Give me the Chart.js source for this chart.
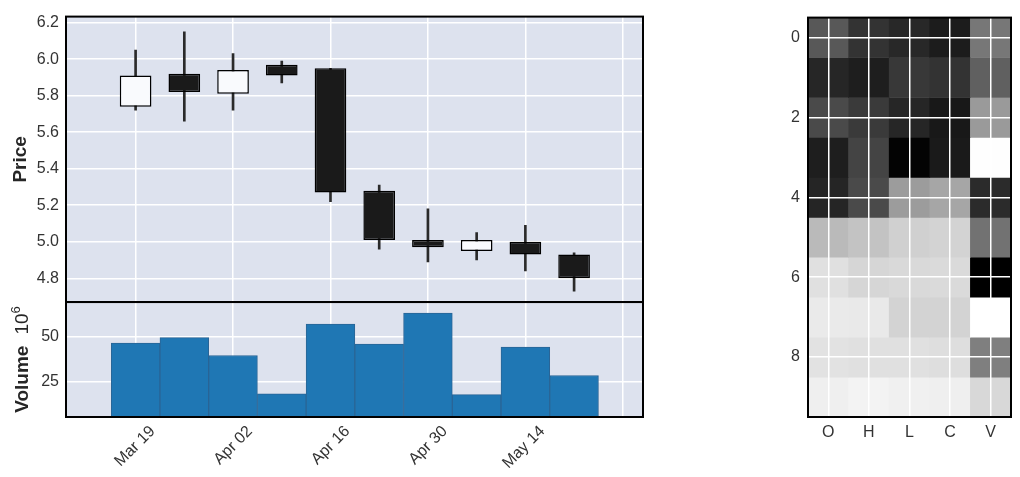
<!DOCTYPE html>
<html>
<head>
<meta charset="utf-8">
<script src="https://cdn.jsdelivr.net/npm/chart.js@4.4.0/dist/chart.umd.min.js"></script>
<style>
  body { margin: 0; background: #fff; width: 1020px; height: 477px; overflow: hidden; position: relative; }
  canvas { position: absolute; top: 0; }
  #main { left: 0; }
  #heat { left: 760px; }
</style>
</head>
<body>
<canvas id="main" width="700" height="477"></canvas>
<canvas id="heat" width="260" height="477"></canvas>
<script>
// weekly candles, x = days after Mar 19
const weekDays = [0, 7, 14, 21, 28, 35, 42, 49, 56, 63];
const opens = [5.74, 5.92, 5.81, 5.97, 5.95, 5.28, 5.01, 4.95, 5.00, 4.93];
const highs = [6.05, 6.15, 6.03, 5.99, 5.95, 5.31, 5.18, 5.05, 5.09, 4.94];
const lows = [5.72, 5.66, 5.72, 5.87, 5.22, 4.96, 4.89, 4.90, 4.84, 4.73];
const closes = [5.91, 5.82, 5.94, 5.91, 5.27, 5.01, 4.97, 5.01, 4.93, 4.80];
const volumes = [46.3, 49.4, 39.5, 18.3, 56.9, 45.8, 63.0, 17.8, 44.1, 28.4]; // x 10^6

const dateTicks = [0, 14, 28, 42, 56, 70];
const dateLabels = ['Mar 19', 'Apr 02', 'Apr 16', 'Apr 30', 'May 14', ''];
const priceTicks = [4.8, 5.0, 5.2, 5.4, 5.6, 5.8, 6.0, 6.2];
const volumeTicks = [25, 50];

// heatmap: gray level of each cell (0 black .. 255 white), row 0..9
const heatColumns = ['O', 'H', 'L', 'C', 'V'];
const heatRowTicks = [0, 2, 4, 6, 8];
const heatO = [88, 38, 74, 30, 37, 186, 224, 234, 226, 239];
const heatH = [51, 30, 58, 68, 74, 195, 214, 233, 224, 243];
const heatL = [40, 56, 38, 3, 156, 208, 217, 211, 224, 240];
const heatC = [28, 51, 24, 26, 166, 211, 218, 211, 222, 239];
const heatV = [119, 96, 154, 254, 43, 114, 0, 255, 127, 216];

const tickFont = { family: 'Liberation Sans', size: 16 };
const tickColor = '#333';
const gridOpts = { color: '#fff', lineWidth: 1.5, drawTicks: false };

const panels = {
  id: 'panels',
  beforeDraw(chart, args, opts) {
    if (!opts.bg) return;
    const { ctx, chartArea } = chart;
    ctx.save();
    ctx.fillStyle = opts.bg;
    ctx.fillRect(chartArea.left, chartArea.top, chartArea.width, chartArea.height);
    ctx.restore();
  },
  afterDraw(chart, args, opts) {
    const { ctx, chartArea } = chart;
    ctx.save();
    ctx.strokeStyle = '#000';
    ctx.lineWidth = 2;
    opts.boxes.forEach(id => {
      const s = chart.scales[id];
      ctx.strokeRect(chartArea.left, s.top, chartArea.width, s.bottom - s.top);
    });
    ctx.restore();
  }
};

const volumeLabel = {
  id: 'volumeLabel',
  afterDraw(chart) {
    const { ctx } = chart;
    const s = chart.scales.yv;
    const yc = (s.top + s.bottom) / 2;
    ctx.save();
    ctx.fillStyle = '#262626';
    ctx.translate(28, yc);
    ctx.rotate(-Math.PI / 2);
    ctx.textBaseline = 'alphabetic';
    ctx.textAlign = 'left';
    ctx.font = 'bold 19px "Liberation Sans"';
    const w1 = ctx.measureText('Volume').width;
    ctx.font = '19px "Liberation Sans"';
    const w2 = ctx.measureText('10').width;
    ctx.font = '13px "Liberation Sans"';
    const w3 = ctx.measureText('6').width;
    const gap = 11;
    const start = -(w1 + gap + w2 + w3) / 2;
    ctx.font = 'bold 19px "Liberation Sans"';
    ctx.fillText('Volume', start, 0);
    ctx.font = '19px "Liberation Sans"';
    ctx.fillText('10', start + w1 + gap, 0);
    ctx.font = '13px "Liberation Sans"';
    ctx.fillText('6', start + w1 + gap + w2, -8);
    ctx.restore();
  }
};

const candleColors = opens.map((o, i) => closes[i] >= o ? '#f9fafd' : '#1a1a1a');

new Chart(document.getElementById('main'), {
  type: 'bar',
  data: {
    datasets: [
      {
        data: weekDays.map((d, i) => ({ x: d, y: [lows[i], highs[i]] })),
        backgroundColor: '#2a2a2a',
        barThickness: 2,
        grouped: false,
        order: 2,
        yAxisID: 'y'
      },
      {
        data: weekDays.map((d, i) => ({ x: d, y: [opens[i], closes[i]] })),
        backgroundColor: candleColors,
        borderColor: '#000',
        borderWidth: 1.5,
        borderSkipped: false,
        barPercentage: 0.65,
        categoryPercentage: 1,
        grouped: false,
        order: 1,
        yAxisID: 'y'
      },
      {
        data: weekDays.map((d, i) => ({ x: d, y: volumes[i] })),
        backgroundColor: '#1f77b4',
        borderColor: '#2a6596',
        borderWidth: 1,
        borderSkipped: false,
        barPercentage: 1,
        categoryPercentage: 1,
        grouped: false,
        order: 1,
        yAxisID: 'yv'
      }
    ]
  },
  options: {
    responsive: false,
    animation: false,
    layout: { padding: { top: 13, right: 57, left: 0, bottom: 0 } },
    plugins: {
      legend: { display: false },
      tooltip: { enabled: false },
      panels: { bg: '#dde2ee', boxes: ['y', 'yv'] }
    },
    scales: {
      x: {
        type: 'linear',
        position: 'bottom',
        offset: false,
        min: -10,
        max: 72.9,
        grid: Object.assign({}, gridOpts, { offset: false }),
        border: { display: false },
        afterBuildTicks: s => { s.ticks = dateTicks.map(v => ({ value: v })); },
        afterFit: s => { s.height = 60; },
        ticks: {
          font: tickFont,
          color: tickColor,
          minRotation: 45,
          maxRotation: 45,
          labelOffset: 17,
          padding: 5,
          callback: (v) => dateLabels[dateTicks.indexOf(v)]
        }
      },
      yv: {
        position: 'left',
        stack: 'left',
        stackWeight: 116,
        min: 5.4,
        max: 69.1,
        grid: gridOpts,
        border: { display: false },
        afterBuildTicks: s => { s.ticks = volumeTicks.map(v => ({ value: v })); },
        afterFit: s => { s.width = 66; },
        ticks: { font: tickFont, color: tickColor, padding: 7 }
      },
      y: {
        position: 'left',
        stack: 'left',
        stackWeight: 288,
        min: 4.67,
        max: 6.233,
        grid: gridOpts,
        border: { display: false },
        afterBuildTicks: s => { s.ticks = priceTicks.map(v => ({ value: v })); },
        afterFit: s => { s.width = 66; },
        title: {
          display: true,
          text: 'Price',
          color: '#262626',
          font: { family: 'Liberation Sans', size: 19, weight: 'bold' },
          padding: { top: 9, bottom: 0 }
        },
        ticks: { font: tickFont, color: tickColor, padding: 7, callback: v => v.toFixed(1) }
      }
    }
  },
  plugins: [panels, volumeLabel]
});

const heatShades = [heatO, heatH, heatL, heatC, heatV];
const gray = g => `rgb(${g},${g},${g})`;

new Chart(document.getElementById('heat'), {
  type: 'bar',
  data: {
    labels: heatColumns,
    datasets: heatO.map((_, r) => ({
      data: heatColumns.map(() => [r - 0.5, r + 0.5]),
      backgroundColor: heatShades.map(col => gray(col[r])),
      borderWidth: 0,
      barPercentage: 1,
      categoryPercentage: 1,
      grouped: false
    }))
  },
  options: {
    responsive: false,
    animation: false,
    layout: { padding: { top: 13, right: 9, left: 0, bottom: 0 } },
    plugins: {
      legend: { display: false },
      tooltip: { enabled: false },
      panels: { bg: null, boxes: ['y'] }
    },
    scales: {
      x: {
        type: 'category',
        offset: true,
        z: 1,
        grid: Object.assign({}, gridOpts, { offset: false, z: 1 }),
        border: { display: false },
        afterFit: s => { s.height = 60; },
        ticks: { font: tickFont, color: tickColor, padding: 6 }
      },
      y: {
        type: 'linear',
        reverse: true,
        min: -0.5,
        max: 9.5,
        z: 1,
        grid: Object.assign({}, gridOpts, { z: 1 }),
        border: { display: false },
        afterBuildTicks: s => { s.ticks = heatRowTicks.map(v => ({ value: v })); },
        afterFit: s => { s.width = 48; },
        ticks: { font: tickFont, color: tickColor, padding: 8 }
      }
    }
  },
  plugins: [panels]
});
</script>
</body>
</html>
